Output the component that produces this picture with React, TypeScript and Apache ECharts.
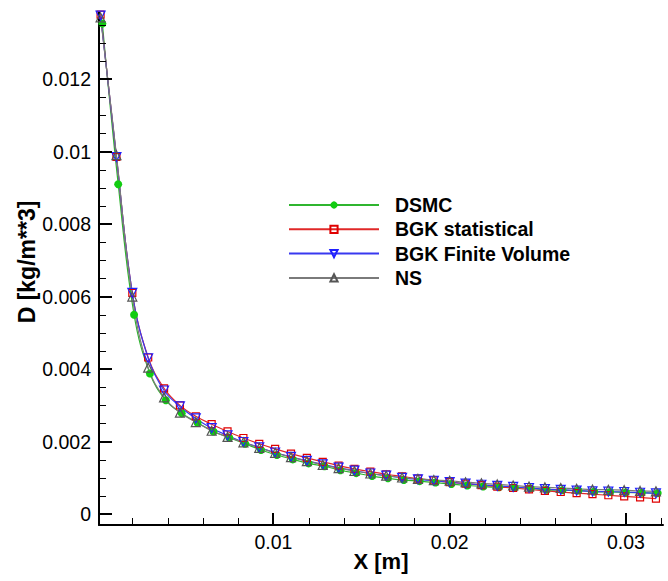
import React, { useEffect, useRef, useState } from "react";
import * as echarts from "echarts";

// x positions of the mesh points (m)
const X_POINTS = [
  0.0002, 0.0011, 0.002, 0.0029, 0.0038, 0.0047, 0.0056, 0.0065, 0.0074, 0.0083,
  0.0092, 0.0101, 0.011, 0.0119, 0.0128, 0.0137, 0.0146, 0.0155, 0.0164, 0.0173,
  0.0182, 0.0191, 0.02, 0.0209, 0.0218, 0.0227, 0.0236, 0.0245, 0.0254, 0.0263,
  0.0272, 0.0281, 0.029, 0.0299, 0.0308, 0.0317,
];
const X_DSMC = [
  0.0003, 0.0012, 0.0021, 0.003, 0.0039, 0.0048, 0.0057, 0.0066, 0.0075, 0.0084,
  0.0093, 0.0102, 0.0111, 0.012, 0.0129, 0.0138, 0.0147, 0.0156, 0.0165, 0.0174,
  0.0183, 0.0192, 0.0201, 0.021, 0.0219, 0.0228, 0.0237, 0.0246, 0.0255, 0.0264,
  0.0273, 0.0282, 0.0291, 0.03, 0.0309, 0.0318,
];

const DSMC = [
  0.01353, 0.0091, 0.0055, 0.00388, 0.00314, 0.00278, 0.00252, 0.00228, 0.00211, 0.00194,
  0.00177, 0.00163, 0.00151, 0.0014, 0.00132, 0.00121, 0.00113, 0.00105, 0.00099, 0.00094,
  0.00091, 0.00087, 0.00083, 0.00079, 0.00076, 0.00074, 0.00073, 0.00071, 0.00067, 0.00066,
  0.00065, 0.00062, 0.00061, 0.0006, 0.00059, 0.00058,
];
const BGK_STAT = [
  0.01378, 0.00985, 0.0061, 0.00432, 0.00347, 0.003, 0.0027, 0.00248, 0.00228, 0.0021,
  0.00194, 0.0018, 0.00167, 0.00155, 0.00144, 0.00134, 0.00125, 0.00117, 0.0011, 0.00104,
  0.00098, 0.00093, 0.00088, 0.00084, 0.0008, 0.00076, 0.00072, 0.00068, 0.00064, 0.00061,
  0.00058, 0.00055, 0.00052, 0.00049, 0.00046, 0.00043,
];
const BGK_FV = [
  0.01375, 0.00985, 0.0061, 0.0043, 0.00341, 0.00297, 0.00264, 0.00237, 0.00217, 0.00199,
  0.00184, 0.0017, 0.00158, 0.00147, 0.00137, 0.00128, 0.0012, 0.00112, 0.00106, 0.001,
  0.00096, 0.00092, 0.00088, 0.00084, 0.00081, 0.00078, 0.00075, 0.00072, 0.00069, 0.00067,
  0.00065, 0.00063, 0.00062, 0.00061, 0.00059, 0.00057,
];
const NS = [
  0.0137, 0.0099, 0.006, 0.00404, 0.00322, 0.0028, 0.00254, 0.0023, 0.00213, 0.00198,
  0.00183, 0.00169, 0.00157, 0.00146, 0.00136, 0.00127, 0.00119, 0.00112, 0.00106, 0.00101,
  0.00097, 0.00094, 0.00092, 0.00088, 0.00085, 0.00082, 0.00079, 0.00076, 0.00074, 0.00072,
  0.0007, 0.00068, 0.00067, 0.00066, 0.00064, 0.00063,
];

const SERIES_NAMES = ["DSMC", "BGK statistical", "BGK Finite Volume", "NS"];
const X_TITLE = "X [m]";
const Y_TITLE = "D [kg/m**3]";

// tick values
const Y_MAJOR = [0, 0.002, 0.004, 0.006, 0.008, 0.01, 0.012];
const Y_MINOR = [
  0.0005, 0.001, 0.0015, 0.0025, 0.003, 0.0035, 0.0045, 0.005, 0.0055, 0.0065, 0.007,
  0.0075, 0.0085, 0.009, 0.0095, 0.0105, 0.011, 0.0115, 0.0125, 0.013, 0.0135,
];
const X_MAJOR = [0.01, 0.02, 0.03];
const X_MINOR = [
  0.002, 0.004, 0.006, 0.008, 0.012, 0.014, 0.016, 0.018, 0.022, 0.024, 0.026, 0.028, 0.032,
];
const Y_STEP = 0.002;
const X_STEP = 0.01;

const X_MIN = 0.00011;
const X_MAX = 0.0321;
const Y_MIN = -0.0003;
const Y_MAX = 0.01385;

const FONT = "'Liberation Sans', Arial, Helvetica, sans-serif";

const fmt = (v: number) => String(+Number(v).toFixed(4));
const onStep = (v: number, step: number) => Math.abs(v / step - Math.round(v / step)) < 1e-6;

export default function App() {
  const ref = useRef<HTMLDivElement>(null);
  const [err, setErr] = useState("");
  useEffect(() => {
    document.body.style.margin = "0";
    if (!ref.current) return;
    const chart = echarts.init(ref.current, undefined, { renderer: "svg" });
    const pair = (xs: number[], ys: number[]) => xs.map((x, i) => [x, ys[i]]);
    const axisLine = { show: true, onZero: false, lineStyle: { color: "#000000", width: 2 } };
    const labelBase = {
      show: true,
      fontSize: 19.5,
      color: "#000",
      fontFamily: FONT,
      showMinLabel: false,
      showMaxLabel: false,
    };
    const messages: string[] = [];
    try {
      chart.setOption({
        animation: false,
        grid: {
          left: 99,
          right: 5,
          top: 12,
          bottom: 56,
          outerBoundsMode: "none",
          containLabel: false,
        },
        legend: {
          orient: "vertical",
          left: 283,
          top: 190,
          itemWidth: 90,
          itemHeight: 9,
          itemGap: 4.3,
          selectedMode: false,
          data: SERIES_NAMES,
          textStyle: {
            fontFamily: FONT,
            fontSize: 19.5,
            fontWeight: "bold",
            color: "#000",
            padding: [0, 0, 0, 11],
          },
        },
        xAxis: {
          type: "value",
          min: X_MIN,
          max: X_MAX,
          splitNumber: 3,
          axisLine,
          axisTick: { show: false },
          axisLabel: {
            ...labelBase,
            margin: 7,
            formatter: (v: number) => (onStep(v, X_STEP) ? fmt(v) : ""),
          },
          splitLine: { show: false },
        },
        yAxis: {
          type: "value",
          min: Y_MIN,
          max: Y_MAX,
          splitNumber: 7,
          axisLine,
          axisTick: { show: false },
          axisLabel: {
            ...labelBase,
            margin: 8,
            formatter: (v: number) => (onStep(v, Y_STEP) ? fmt(v) : ""),
          },
          splitLine: { show: false },
        },
        graphic: {
          elements: [
            {
              type: "text",
              id: "x-title",
              x: 381,
              y: 561,
              silent: true,
              style: {
                text: X_TITLE,
                fontFamily: FONT,
                fontSize: 22,
                fontWeight: "bold",
                fill: "#000",
                align: "center",
                verticalAlign: "middle",
                textAlign: "center",
                textVerticalAlign: "middle",
              },
            },
            {
              type: "text",
              id: "y-title",
              x: 27,
              y: 262,
              rotation: Math.PI / 2,
              silent: true,
              style: {
                text: Y_TITLE,
                fontFamily: FONT,
                fontSize: 23,
                fontWeight: "bold",
                fill: "#000",
                align: "center",
                verticalAlign: "middle",
                textAlign: "center",
                textVerticalAlign: "middle",
              },
            },
          ],
        },
        series: [
          {
            name: SERIES_NAMES[0],
            type: "line",
            data: pair(X_DSMC, DSMC),
            smooth: 0.4,
            symbol: "circle",
            symbolSize: 8,
            showAllSymbol: true,
            lineStyle: { color: "#2fb52f", width: 1.2 },
            itemStyle: { color: "#11cc11", borderWidth: 0 },
          },
          {
            name: SERIES_NAMES[1],
            type: "line",
            data: pair(X_POINTS, BGK_STAT),
            smooth: 0.4,
            symbol: "rect",
            symbolSize: 7,
            showAllSymbol: true,
            lineStyle: { color: "#e02828", width: 1.2 },
            itemStyle: { color: "rgba(255,255,255,0)", borderColor: "#e00000", borderWidth: 1.2 },
          },
          {
            name: SERIES_NAMES[2],
            type: "line",
            data: pair(X_POINTS, BGK_FV),
            smooth: 0.4,
            symbol: "path://M0,0L2,0L1,2Z",
            symbolSize: 9,
            showAllSymbol: true,
            lineStyle: { color: "#3838f0", width: 1.2 },
            itemStyle: { color: "rgba(255,255,255,0)", borderColor: "#2020ff", borderWidth: 1.2 },
          },
          {
            name: SERIES_NAMES[3],
            type: "line",
            data: pair(X_POINTS, NS),
            smooth: 0.4,
            symbol: "triangle",
            symbolSize: 9,
            showAllSymbol: true,
            lineStyle: { color: "#7a7a7a", width: 1.2 },
            itemStyle: { color: "rgba(255,255,255,0)", borderColor: "#555555", borderWidth: 1.2 },
          },
        ],
      });
    } catch (e: any) {
      messages.push("A: " + String(e && e.message ? e.message : e));
    }

    // inside axis ticks, positioned through the chart's own scales
    try {
      const toPx = (x: number, y: number): number[] => {
        const p: any = chart.convertToPixel({ gridIndex: 0 } as any, [x, y]);
        return Array.isArray(p) ? p : [NaN, NaN];
      };
      const snap = (v: number, w: number) => (w % 2 === 1 ? Math.round(v) + 0.5 : Math.round(v));
      const ticks: any[] = [];
      const yTick = (v: number, len: number, w: number) => {
        const p = toPx(X_MIN, v);
        if (!isFinite(p[0]) || !isFinite(p[1])) return;
        const y = snap(p[1], w);
        ticks.push({
          type: "line",
          id: "yt-" + ticks.length,
          silent: true,
          z: 50,
          shape: { x1: p[0], y1: y, x2: p[0] + len, y2: y },
          style: { stroke: "#000000", lineWidth: w, fill: null },
        });
      };
      const xTick = (v: number, len: number, w: number) => {
        const p = toPx(v, Y_MIN);
        if (!isFinite(p[0]) || !isFinite(p[1])) return;
        const x = snap(p[0], w);
        ticks.push({
          type: "line",
          id: "xt-" + ticks.length,
          silent: true,
          z: 50,
          shape: { x1: x, y1: p[1], x2: x, y2: p[1] - len },
          style: { stroke: "#000000", lineWidth: w, fill: null },
        });
      };
      Y_MAJOR.forEach((v) => yTick(v, 13, 2));
      Y_MINOR.forEach((v) => yTick(v, 7, 1));
      X_MAJOR.forEach((v) => xTick(v, 12, 2));
      X_MINOR.forEach((v) => xTick(v, 7, 1));
      if (ticks.length === 0) messages.push("B: no ticks");
      chart.setOption({ graphic: { elements: ticks } });
    } catch (e: any) {
      messages.push("B: " + String(e && e.message ? e.message : e));
    }
    if (messages.length) setErr(messages.join(" | "));
    return () => chart.dispose();
  }, []);
  return (
    <div style={{ position: "relative", width: 668, height: 581 }}>
      <div ref={ref} style={{ width: 668, height: 581 }} />
      {err ? (
        <div
          style={{
            position: "absolute",
            left: 2,
            bottom: 2,
            fontSize: 9,
            color: "#999",
            fontFamily: "sans-serif",
          }}
        >
          {err}
        </div>
      ) : null}
    </div>
  );
}
